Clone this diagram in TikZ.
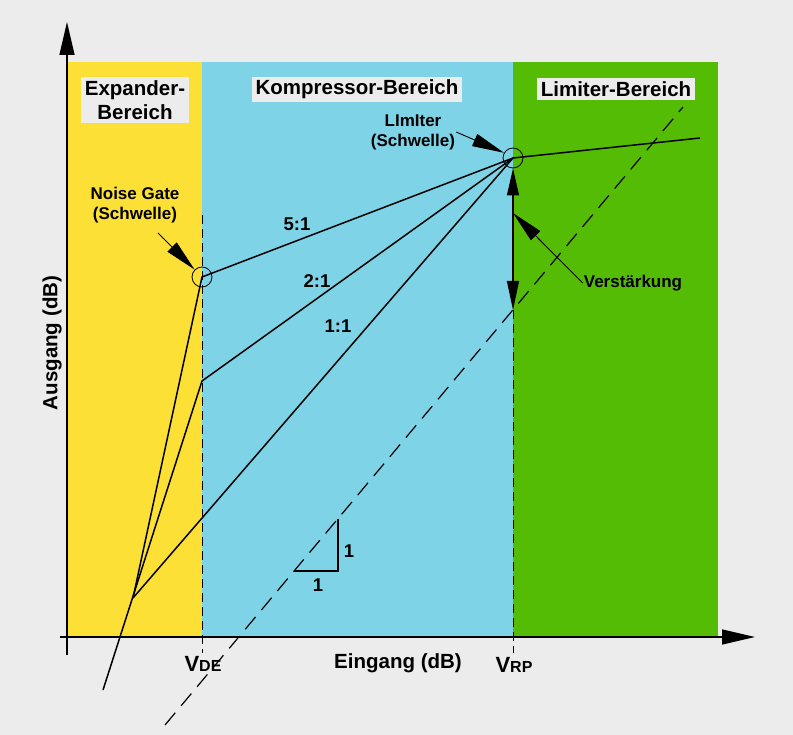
\documentclass[tikz,border=0pt]{standalone}
\usepackage{fontspec}
\setmainfont{Liberation Sans}
\usetikzlibrary{arrows.meta,positioning}

\definecolor{bggray}{HTML}{ECECEC}
\definecolor{expyellow}{HTML}{FCE036}
\definecolor{compblue}{HTML}{7FD3E6}
\definecolor{limgreen}{HTML}{55BC06}

\tikzset{
  axis/.style={line width=1.4pt, -{Triangle[length=33pt,width=15pt]}},
  curve/.style={line width=1.5pt},
  dashln/.style={line width=1.2pt, dash pattern=on 16pt off 9pt},
  vdashln/.style={line width=1pt, dash pattern=on 9pt off 5pt},
  pointer/.style={line width=0.9pt, -{Triangle[length=32pt,width=13pt]}},
  marker/.style={circle, draw, minimum size=20pt, inner sep=0pt, line width=0.8pt},
  regionlbl/.style={fill=bggray, inner sep=3pt, align=center,
    font=\bfseries\fontsize{20.5}{24}\selectfont},
  lbl/.style={align=center, inner sep=1pt, font=\bfseries\fontsize{17}{20}\selectfont},
  ratio/.style={font=\bfseries\fontsize{18.5}{20}\selectfont},
  axislbl/.style={font=\bfseries\fontsize{20.5}{22}\selectfont}
}

\begin{document}
\begin{tikzpicture}[x=1pt,y=-1pt]
  \useasboundingbox (0,0) rectangle (793,735);
  \fill[bggray] (0,0) rectangle (793,735);

  % regions
  \fill[expyellow] (67,62) rectangle (202,637);
  \fill[compblue] (202,62) rectangle (513,637);
  \fill[limgreen] (513,62) rectangle (718,637);

  \node[regionlbl, minimum width=108pt] (expl) at (135,100) {Expander-\\Bereich};
  \node[regionlbl, minimum width=210pt] (kompl) at (357,89.5) {Kompressor-Bereich};
  \node[regionlbl, minimum width=158pt] (liml) at (616,89) {Limiter-Bereich};

  % axes
  \draw[axis] (60,637) -- (755,637);
  \draw[axis] (67,655) -- (67,22);
  \node[axislbl] (xlbl) at (398,663) {Eingang (dB)};
  \node[axislbl, rotate=90] (ylbl) at (52,343) {Ausgang (dB)};

  % characteristic points
  \coordinate (conv) at (133,598);
  \coordinate (low) at (103,690);
  \coordinate (ng) at (202,277);
  \coordinate (kink) at (202,381);
  \coordinate (lim) at (513,158);
  \coordinate (limend) at (700,138);
  \coordinate (d1) at (165,725);
  \coordinate (d2) at (683,107);

  % thresholds
  \draw[vdashln] (202,215) -- (202,653);
  \draw[vdashln] (513,310) -- (513,653);
  \node (vde) at (203,664) {\bfseries{\fontsize{22}{24}\selectfont V}{\fontsize{16}{18}\selectfont DE}};
  \node (vrp) at (514,665) {\bfseries{\fontsize{22}{24}\selectfont V}{\fontsize{16}{18}\selectfont RP}};

  % 1:1 reference line with slope triangle
  \draw[dashln] (d1) -- (d2);
  \draw[line width=1.2pt] (294,571) -- (338,571) -- (338,519);
  \node[ratio] (one1) at (318,585) {1};
  \node[ratio] (one2) at (349,551) {1};

  % curves
  \draw[curve] (low) -- (kink) -- (lim);
  \draw[curve] (conv) -- (ng) -- (lim);
  \draw[curve] (conv) -- (lim);
  \draw[curve] (lim) -- (limend);
  \node[ratio] (r5) at (297,224) {5:1};
  \node[ratio] (r2) at (317,281) {2:1};
  \node[ratio] (r1) at (338,326) {1:1};

  \node[marker] (ngc) at (ng) {};
  \node[marker] (limc) at (lim) {};

  % annotations
  \node[lbl] (nglbl) at (135,205) {Noise Gate\\(Schwelle)};
  \coordinate (ngtail) at (158,233);
  \draw[pointer] (ngtail) -- (ngc.north west);

  \node[lbl] (limlbl) at (413,132) {LImIter\\(Schwelle)};
  \draw[pointer] (limlbl.east) -- (limc.150);

  \coordinate (gainlow) at (513,310);
  \draw[line width=1.2pt, {Triangle[length=29pt,width=12pt]}-{Triangle[length=27pt,width=12pt]}] (gainlow) -- (limc.south);
  \node[lbl] (vlbl) at (633,283) {Verstärkung};
  \coordinate (gaintip) at (513,213);
  \draw[pointer] (vlbl.west) -- (gaintip);
\end{tikzpicture}
\end{document}
